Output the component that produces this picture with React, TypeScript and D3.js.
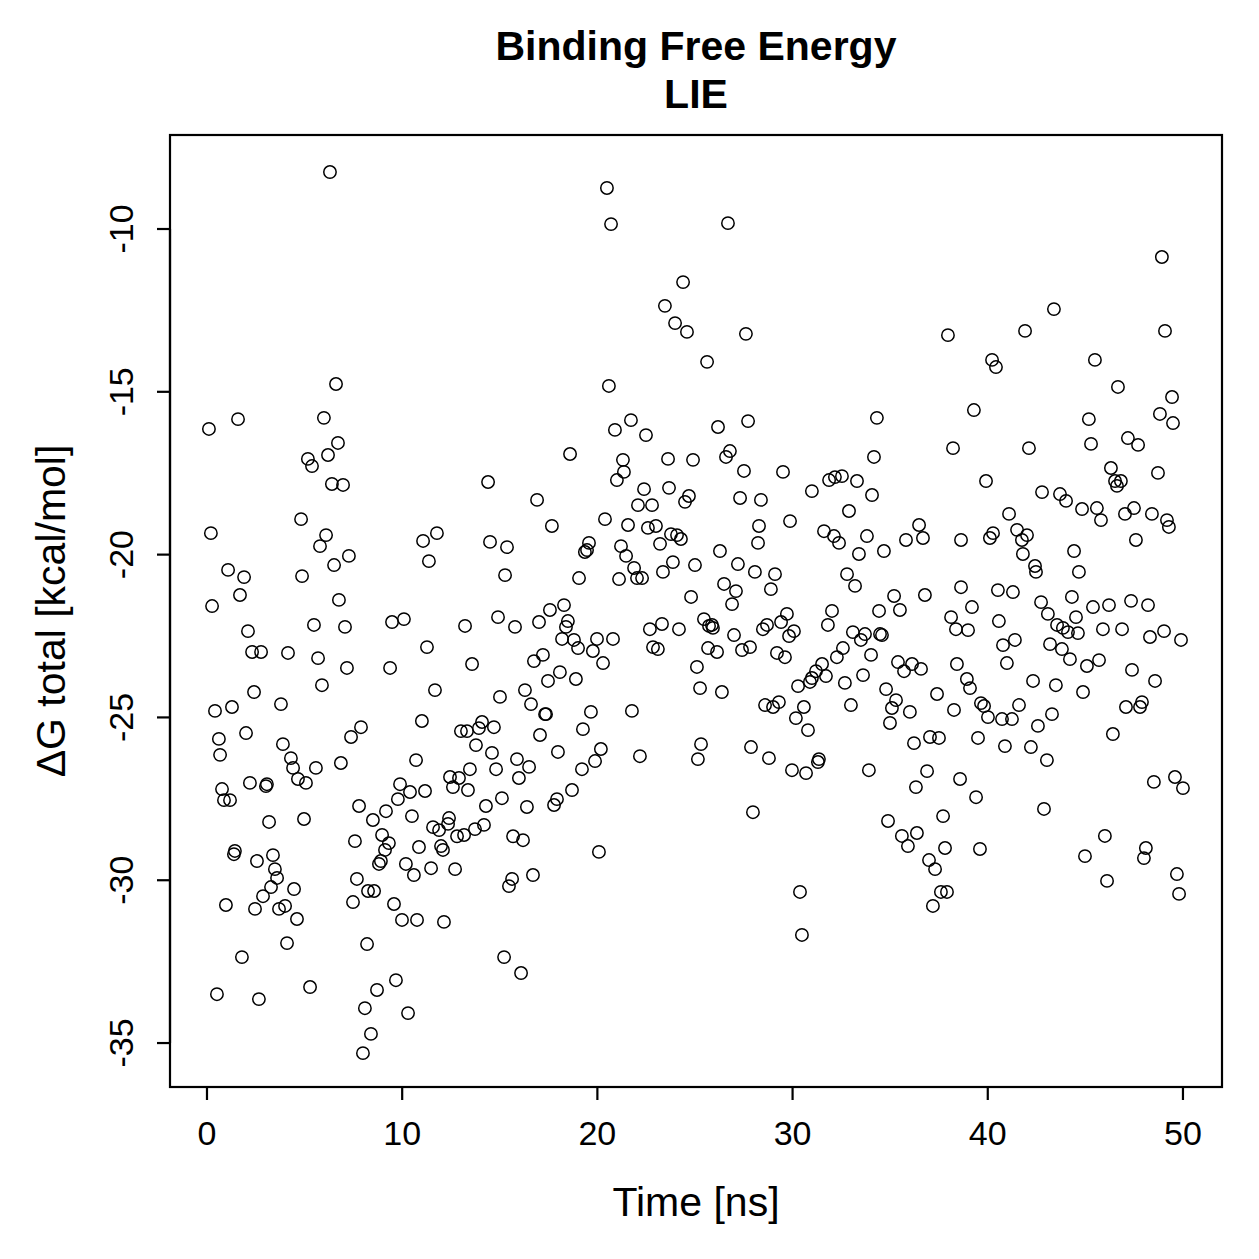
import React from "react";
import * as d3 from "d3";

// Simulation time (ns) of each LIE sample
const timeNs: number[] = [
  6.30, 6.61, 1.59, 0.10, 5.99, 6.71, 6.20, 5.17, 5.38, 6.40,
  6.97, 4.82, 0.20, 6.10, 5.79, 7.27, 6.51, 11.07, 11.78, 11.37,
  1.08, 1.90, 4.87, 1.69, 0.26, 6.76, 2.10, 5.48, 7.07, 9.48,
  10.09, 11.27, 2.31, 2.77, 4.15, 5.69, 7.17, 9.38, 5.89, 11.68,
  2.41, 3.79, 0.41, 1.28, 11.01, 7.89, 7.38, 0.61, 2.00, 3.89,
  4.30, 0.67, 6.86, 10.71, 4.41, 5.58, 0.77, 2.20, 3.02, 3.07,
  4.66, 5.07, 1.18, 0.87, 9.89, 10.40, 11.17, 7.79, 9.78, 9.17,
  8.50, 10.50, 3.18, 4.97, 12.45, 12.60, 12.40, 11.58, 11.89, 8.97,
  9.32, 7.58, 10.86, 11.99, 12.09, 1.43, 1.38, 2.56, 3.38, 3.48,
  3.59, 3.28, 2.87, 4.46, 9.12, 8.91, 8.81, 10.19, 10.60, 11.48,
  7.68, 8.25, 8.56, 7.48, 9.58, 0.97, 2.46, 3.69, 4.00, 4.61,
  9.99, 10.76, 12.14, 4.10, 8.20, 1.79, 9.68, 8.71, 0.51, 2.66,
  5.28, 8.09, 10.30, 8.40, 7.99,

  20.49, 20.70, 24.39, 23.46, 23.98, 24.59, 20.59, 21.72, 20.90, 22.49,
  18.60, 21.31, 21.36, 21.00, 23.62, 24.90, 14.40, 22.39, 23.67, 24.69,
  24.49, 16.91, 22.08, 22.80, 20.39, 17.67, 21.57, 22.59, 23.00, 23.77,
  24.08, 24.28, 14.50, 15.37, 19.57, 19.47, 19.36, 21.21, 21.47, 23.21,
  23.87, 23.36, 25.00, 21.88, 22.03, 22.29, 15.27, 19.06, 21.11, 24.80,
  18.29, 17.57, 14.91, 13.22, 15.78, 17.01, 18.49, 18.39, 23.31, 22.69,
  24.18, 25.46, 18.19, 18.80, 19.01, 19.98, 20.80, 19.77, 22.85, 23.10,
  13.58, 16.75, 17.21, 20.29, 25.10, 18.08, 17.47, 18.90, 25.26, 16.29,
  15.01, 16.60, 17.32, 17.37, 19.67, 21.77, 14.09, 13.01, 13.32, 13.93,
  14.70, 17.06, 19.26, 13.78, 14.60, 17.98, 20.18, 25.31, 15.88, 19.88,
  22.18, 25.15, 12.91, 13.47, 14.81, 15.98, 16.50, 19.21, 13.37, 15.11,
  14.29, 16.39, 17.93, 17.78, 18.70, 12.35, 14.19, 13.73, 13.17, 12.81,
  15.68, 16.19, 20.08, 12.71, 15.63, 15.47, 16.70, 15.22, 16.09,

  26.69, 27.61, 25.62, 37.96, 26.18, 27.72, 34.32, 26.79, 26.59, 34.17,
  38.22, 27.51, 29.51, 31.87, 32.17, 32.53, 33.30, 30.99, 34.07, 27.31,
  28.38, 32.89, 28.28, 29.87, 36.48, 31.61, 32.12, 32.38, 33.81, 35.81,
  36.68, 38.63, 28.23, 33.40, 34.68, 26.28, 27.20, 28.07, 29.10, 32.79,
  33.20, 26.49, 27.10, 26.90, 28.89, 35.20, 36.78, 38.63, 32.02, 31.81,
  34.43, 35.50, 38.12, 38.37, 25.87, 25.72, 25.92, 29.71, 29.41, 28.69,
  28.48, 30.07, 29.82, 27.00, 33.09, 33.71, 33.50, 34.48, 34.58, 25.67,
  26.13, 27.82, 27.41, 29.20, 29.61, 32.58, 32.27, 34.02, 31.51, 31.20,
  31.71, 30.99, 30.89, 30.28, 35.40, 35.71, 36.12, 36.58, 33.61, 32.68,
  38.42, 26.38, 34.79, 37.40, 28.59, 29.00, 29.30, 30.58, 30.17, 32.99,
  35.30, 35.09, 36.01, 38.27, 34.99, 30.79, 37.04, 37.50, 27.87, 36.22,
  28.79, 31.35, 31.30, 29.97, 30.69, 33.91, 36.89, 36.32, 38.58, 27.97,
  34.89, 37.71, 35.60, 36.37, 35.91, 37.81, 36.99, 37.30, 30.38, 37.60,
  37.91, 37.19, 30.48,

  48.92, 43.39, 41.91, 49.08, 40.22, 40.42, 45.49, 46.67, 49.44, 39.29,
  48.82, 49.49, 45.18, 47.18, 47.70, 45.29, 42.11, 46.31, 48.72, 39.91,
  46.52, 46.82, 46.62, 42.78, 43.70, 44.01, 44.83, 45.59, 45.80, 47.03,
  47.49, 48.41, 49.18, 49.28, 41.09, 41.50, 42.01, 41.75, 40.27, 40.11,
  47.59, 44.42, 41.80, 42.42, 42.47, 44.67, 40.52, 41.29, 44.31, 42.73,
  45.39, 46.21, 47.34, 48.21, 39.19, 43.08, 44.52, 40.57, 43.55, 43.85,
  44.11, 44.62, 38.99, 45.90, 46.88, 48.31, 49.03, 49.90, 40.78, 41.39,
  43.19, 43.80, 44.21, 40.98, 45.08, 45.70, 47.39, 38.93, 39.09, 42.32,
  43.49, 48.57, 44.88, 39.65, 39.81, 41.60, 40.01, 40.73, 41.24, 43.29,
  47.08, 47.90, 47.80, 42.57, 46.41, 39.50, 40.88, 42.21, 43.03, 39.40,
  42.88, 48.51, 49.59, 50.00, 46.00, 44.98, 39.60, 48.10, 48.00, 46.11,
  49.69, 49.80,
];

// Total binding free energy (kcal/mol) for each sample above
const deltaG: number[] = [
  -8.25, -14.76, -15.84, -16.14, -15.80, -16.57, -16.94, -17.06, -17.28, -17.83,
  -17.86, -18.91, -19.34, -19.40, -19.74, -20.04, -20.32, -19.58, -19.34, -20.20,
  -20.47, -20.69, -20.66, -21.24, -21.58, -21.39, -22.35, -22.16, -22.22, -22.07,
  -21.98, -22.84, -22.99, -22.99, -23.02, -23.18, -23.48, -23.48, -24.01, -24.16,
  -24.22, -24.59, -24.80, -24.68, -25.11, -25.30, -25.60, -25.66, -25.48, -25.82,
  -26.25, -26.15, -26.40, -26.31, -26.55, -26.55, -27.20, -27.01, -27.11, -27.05,
  -26.89, -27.01, -27.54, -27.54, -27.05, -27.29, -27.26, -27.72, -27.51, -27.88,
  -28.15, -28.03, -28.21, -28.12, -26.83, -27.14, -28.09, -28.37, -28.46, -28.61,
  -28.86, -28.80, -28.98, -28.95, -29.07, -29.10, -29.20, -29.41, -29.23, -29.66,
  -29.93, -30.21, -30.49, -30.27, -29.07, -29.41, -29.50, -29.50, -29.84, -29.63,
  -29.96, -30.33, -30.33, -30.67, -30.73, -30.76, -30.88, -30.88, -30.79, -31.19,
  -31.22, -31.22, -31.28, -31.93, -31.96, -32.36, -33.07, -33.37, -33.50, -33.65,
  -33.28, -33.93, -34.08, -34.72, -35.31,

  -8.74, -9.85, -11.63, -12.36, -12.89, -13.16, -14.82, -15.87, -16.17, -16.33,
  -16.91, -17.09, -17.46, -17.71, -17.06, -17.09, -17.77, -17.99, -17.95, -18.20,
  -18.38, -18.32, -18.48, -18.48, -18.91, -19.12, -19.09, -19.18, -19.12, -19.37,
  -19.40, -19.52, -19.61, -19.77, -19.64, -19.86, -19.92, -19.74, -20.04, -19.67,
  -20.23, -20.53, -20.32, -20.41, -20.72, -20.72, -20.63, -20.72, -20.75, -21.30,
  -21.55, -21.70, -21.92, -22.19, -22.22, -22.07, -22.04, -22.22, -22.13, -22.29,
  -22.29, -21.98, -22.59, -22.62, -22.87, -22.59, -22.59, -22.96, -22.84, -22.90,
  -23.36, -23.27, -23.08, -23.33, -23.45, -23.61, -23.88, -23.82, -24.10, -24.16,
  -24.37, -24.59, -24.90, -24.90, -24.83, -24.80, -25.14, -25.42, -25.42, -25.33,
  -25.30, -25.54, -25.36, -25.85, -26.09, -26.06, -25.97, -25.82, -26.28, -26.34,
  -26.19, -26.28, -26.86, -26.59, -26.59, -26.86, -26.52, -26.59, -27.23, -27.48,
  -27.72, -27.75, -27.51, -27.69, -27.23, -28.27, -28.30, -28.43, -28.61, -28.65,
  -28.65, -28.77, -29.13, -29.66, -29.96, -30.18, -29.84, -32.36, -32.85,

  -9.82, -13.22, -14.08, -13.26, -16.08, -15.90, -15.80, -16.82, -17.00, -17.00,
  -16.73, -17.43, -17.46, -17.71, -17.62, -17.59, -17.74, -18.05, -18.17, -18.26,
  -18.32, -18.66, -19.12, -18.97, -19.09, -19.28, -19.43, -19.64, -19.43, -19.55,
  -19.49, -19.55, -19.64, -19.98, -19.89, -19.89, -20.29, -20.53, -20.60, -20.60,
  -20.96, -20.90, -21.12, -21.52, -21.06, -21.27, -21.24, -21.00, -21.73, -22.16,
  -21.73, -21.70, -21.92, -22.29, -22.16, -22.19, -22.25, -21.82, -22.07, -22.16,
  -22.29, -22.35, -22.50, -22.47, -22.38, -22.44, -22.62, -22.44, -22.47, -22.87,
  -22.99, -22.84, -22.93, -23.02, -23.15, -22.87, -23.15, -23.08, -23.36, -23.58,
  -23.73, -23.79, -23.91, -24.04, -23.30, -23.58, -23.36, -23.51, -23.70, -23.94,
  -23.36, -24.22, -24.13, -24.28, -24.62, -24.68, -24.53, -24.68, -25.02, -24.62,
  -24.47, -24.71, -24.83, -24.77, -25.17, -25.39, -25.60, -25.63, -25.91, -25.79,
  -26.25, -26.28, -26.37, -26.62, -26.71, -26.62, -26.65, -27.14, -26.89, -27.91,
  -28.18, -28.03, -28.64, -28.55, -28.95, -29.01, -29.38, -29.66, -30.36, -30.36,
  -30.36, -30.79, -31.68,

  -10.86, -12.46, -13.13, -13.13, -14.02, -14.24, -14.02, -14.85, -15.16, -15.56,
  -15.68, -15.96, -15.84, -16.42, -16.63, -16.60, -16.73, -17.34, -17.49, -17.74,
  -17.74, -17.74, -17.89, -18.08, -18.14, -18.35, -18.60, -18.57, -18.94, -18.75,
  -18.57, -18.75, -18.94, -19.15, -18.75, -19.24, -19.40, -19.55, -19.34, -19.49,
  -19.55, -19.89, -19.98, -20.35, -20.53, -20.53, -21.09, -21.15, -21.30, -21.46,
  -21.61, -21.55, -21.42, -21.55, -21.61, -21.82, -21.92, -22.04, -22.16, -22.25,
  -22.38, -22.41, -22.32, -22.29, -22.29, -22.53, -22.35, -22.62, -22.78, -22.62,
  -22.75, -22.90, -23.21, -23.33, -23.42, -23.24, -23.54, -23.82, -24.10, -23.88,
  -24.01, -23.88, -24.22, -24.56, -24.65, -24.62, -24.99, -25.05, -25.05, -24.90,
  -24.68, -24.53, -24.68, -25.26, -25.51, -25.63, -25.88, -25.91, -26.31, -27.45,
  -27.81, -26.98, -26.83, -27.17, -28.64, -29.26, -29.04, -29.01, -29.32, -30.02,
  -29.81, -30.42,
];

const xTicks = [0, 10, 20, 30, 40, 50];
const yTicks = [-35, -30, -25, -20, -15, -10];
const titleLines = ["Binding Free Energy", "LIE"];
const xLabel = "Time [ns]";
const yLabel = "ΔG total [kcal/mol]";

const W = 1259;
const H = 1259;
const box = { left: 170, right: 1222, top: 135, bottom: 1087 };
const font = "'Liberation Sans', Arial, Helvetica, sans-serif";

export default function App() {
  const x = d3.scaleLinear().domain([-1.895, 52.0]).range([box.left, box.right]);
  const y = d3.scaleLinear().domain([-36.35, -7.113]).range([box.bottom, box.top]);
  const n = Math.min(timeNs.length, deltaG.length);
  const pts = d3.range(n).map((i) => [timeNs[i], deltaG[i]]);
  const tickLen = 13;
  const tickFont = 34;
  const labelFont = 41;

  return (
    <svg
      width={W}
      height={H}
      viewBox={`0 0 ${W} ${H}`}
      style={{ position: "absolute", left: 0, top: 0, background: "#fff" }}
      fontFamily={font}
    >
      <rect x={0} y={0} width={W} height={H} fill="#fff" />
      {/* title */}
      {titleLines.map((t, i) => (
        <text
          key={t}
          x={(box.left + box.right) / 2}
          y={60 + i * 48}
          textAnchor="middle"
          fontWeight="bold"
          fontSize={41}
          fill="#000"
        >
          {t}
        </text>
      ))}

      {/* points */}
      <g fill="none" stroke="#000" strokeWidth={1.5}>
        {pts.map(([t, g], i) => (
          <circle key={i} cx={x(t)} cy={y(g)} r={6.2} />
        ))}
      </g>

      {/* plot frame */}
      <rect
        x={box.left}
        y={box.top}
        width={box.right - box.left}
        height={box.bottom - box.top}
        fill="none"
        stroke="#000"
        strokeWidth={2.2}
      />

      {/* x axis */}
      <g stroke="#000" strokeWidth={2.2}>
        <line x1={x(xTicks[0])} x2={x(xTicks[xTicks.length - 1])} y1={box.bottom} y2={box.bottom} />
        {xTicks.map((v) => (
          <line key={v} x1={x(v)} x2={x(v)} y1={box.bottom} y2={box.bottom + tickLen} />
        ))}
      </g>
      {xTicks.map((v) => (
        <text key={v} x={x(v)} y={1145} textAnchor="middle" fontSize={tickFont} fill="#000">
          {v}
        </text>
      ))}

      {/* y axis */}
      <g stroke="#000" strokeWidth={2.2}>
        <line x1={box.left} x2={box.left} y1={y(yTicks[0])} y2={y(yTicks[yTicks.length - 1])} />
        {yTicks.map((v) => (
          <line key={v} x1={box.left} x2={box.left - tickLen} y1={y(v)} y2={y(v)} />
        ))}
      </g>
      {yTicks.map((v) => (
        <text
          key={v}
          transform={`translate(133, ${y(v)}) rotate(-90)`}
          textAnchor="middle"
          fontSize={tickFont}
          fill="#000"
        >
          {v}
        </text>
      ))}

      {/* axis titles */}
      <text x={(box.left + box.right) / 2} y={1216} textAnchor="middle" fontSize={labelFont} fill="#000">
        {xLabel}
      </text>
      <text
        transform={`translate(65, ${(box.top + box.bottom) / 2}) rotate(-90)`}
        textAnchor="middle"
        fontSize={labelFont}
        fill="#000"
      >
        {yLabel}
      </text>
    </svg>
  );
}
